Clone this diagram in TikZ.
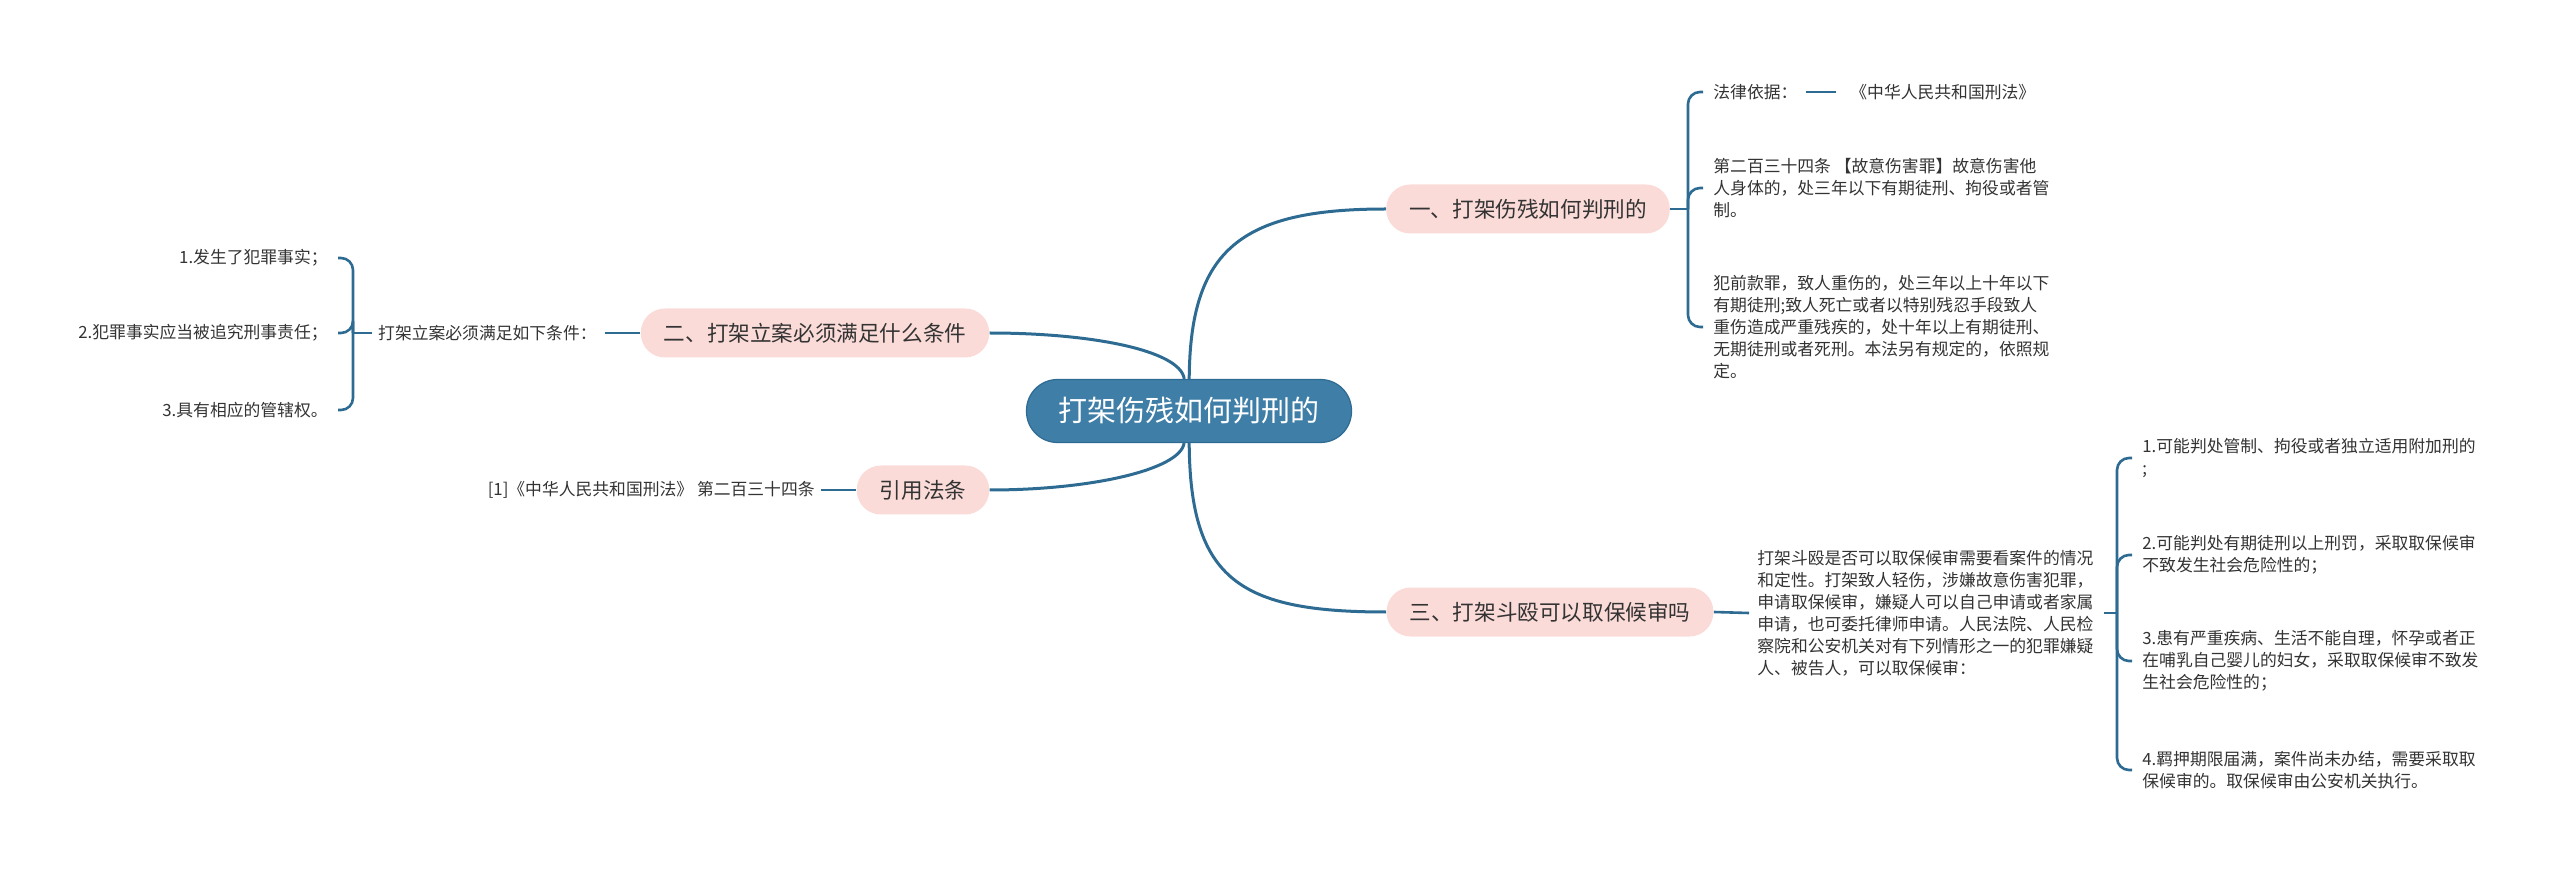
\documentclass[tikz,border=0pt]{standalone}
\usepackage{fontspec}
\setmainfont{Noto Sans CJK SC}
\usetikzlibrary{backgrounds}
\definecolor{linkblue}{HTML}{2E6B92}
\definecolor{rootblue}{HTML}{3F7EA7}
\definecolor{topicpink}{HTML}{FADBD8}
\definecolor{inktext}{HTML}{333333}
\begin{document}
\begin{tikzpicture}[x=0.5pt, y=-0.5pt,
  root/.style={fill=rootblue, draw=linkblue, line width=0.6pt, rounded corners=15.5pt,
    minimum height=31.5pt, inner xsep=16pt, text=white, font=\fontsize{14.5}{17}\selectfont},
  topic/.style={fill=topicpink, rounded corners=12pt, minimum height=24.5pt, inner xsep=11.5pt,
    text=inktext, font=\fontsize{10.8}{13}\selectfont},
  leaf/.style={inner sep=0pt, align=left, text=inktext, font=\fontsize{8.4}{11}\selectfont},
  link/.style={draw=linkblue, line width=1.5pt},
  twig/.style={draw=linkblue, line width=1.3pt, rounded corners=6pt}]
  \useasboundingbox (0,0) rectangle (2560,871);
  % centre and main topics
  \node[root] (c) at (1189,411) {打架伤残如何判刑的};
  \node[topic] (b1) at (1528,209) {一、打架伤残如何判刑的};
  \node[topic] (b2) at (815,333) {二、打架立案必须满足什么条件};
  \node[topic] (b4) at (923,490) {引用法条};
  \node[topic] (b3) at (1550,612) {三、打架斗殴可以取保候审吗};
  % topic one
  \node[leaf, anchor=west] (l1a) at (1713,92) {法律依据：};
  \node[leaf, anchor=west] (l1d) at (1850,92) {《中华人民共和国刑法》};
  \node[leaf, anchor=west] (l1b) at (1713,188) {第二百三十四条 【故意伤害罪】故意伤害他\\人身体的，处三年以下有期徒刑、拘役或者管\\制。};
  \node[leaf, anchor=west] (l1c) at (1713,327) {犯前款罪，致人重伤的，处三年以上十年以下\\有期徒刑;致人死亡或者以特别残忍手段致人\\重伤造成严重残疾的，处十年以上有期徒刑、\\无期徒刑或者死刑。本法另有规定的，依照规\\定。};
  % topic two
  \node[leaf, anchor=east] (l2) at (597,333) {打架立案必须满足如下条件：};
  \node[leaf, anchor=east] (k1) at (328,258) {1.发生了犯罪事实；};
  \node[leaf, anchor=east] (k2) at (328,333) {2.犯罪事实应当被追究刑事责任；};
  \node[leaf, anchor=east] (k3) at (328,410) {3.具有相应的管辖权。};
  % quoted law
  \node[leaf, anchor=east] (l4) at (815,490) {[1]《中华人民共和国刑法》 第二百三十四条};
  % topic three
  \node[leaf, anchor=west] (l3) at (1757,613) {打架斗殴是否可以取保候审需要看案件的情况\\和定性。打架致人轻伤，涉嫌故意伤害犯罪，\\申请取保候审，嫌疑人可以自己申请或者家属\\申请，也可委托律师申请。人民法院、人民检\\察院和公安机关对有下列情形之一的犯罪嫌疑\\人、被告人，可以取保候审：};
  \node[leaf, anchor=west] (m1) at (2142,458) {1.可能判处管制、拘役或者独立适用附加刑的\\;};
  \node[leaf, anchor=west] (m2) at (2142,555) {2.可能判处有期徒刑以上刑罚，采取取保候审\\不致发生社会危险性的；};
  \node[leaf, anchor=west] (m3) at (2142,661) {3.患有严重疾病、生活不能自理，怀孕或者正\\在哺乳自己婴儿的妇女，采取取保候审不致发\\生社会危险性的；};
  \node[leaf, anchor=west] (m4) at (2142,770) {4.羁押期限届满，案件尚未办结，需要采取取\\保候审的。取保候审由公安机关执行。};
  \coordinate (s1) at (1688,209);
  \coordinate (s2) at (353,333);
  \coordinate (s3) at (2117,613);
  \begin{scope}[on background layer]
    \draw[link] (c) .. controls (1190,250) and (1240,209) .. (b1.west);
    \draw[link] (b2.east) .. controls (1090,333) and (1180,350) .. (c);
    \draw[link] (b4.east) .. controls (1090,490) and (1180,470) .. (c);
    \draw[link] (c) .. controls (1190,580) and (1240,612) .. (b3.west);
  \end{scope}
  % brackets
  \draw[twig] (b1.east) -- (s1);
  \foreach \n in {l1a,l1b,l1c}
    \draw[twig] (s1) |- ([xshift=-5pt]\n.west);
  \draw[twig] ([xshift=4pt]l1a.east) -- ([xshift=-7pt]l1d.west);
  \draw[twig] (b2.west) -- ([xshift=4pt]l2.east);
  \draw[twig] ([xshift=-3pt]l2.west) -- (s2);
  \foreach \n in {k1,k2,k3}
    \draw[twig] (s2) |- ([xshift=5pt]\n.east);
  \draw[twig] (b4.west) -- ([xshift=3pt]l4.east);
  \draw[twig] (b3.east) -- ([xshift=-4pt]l3.west);
  \draw[twig] ([xshift=5pt]l3.east) -- (s3);
  \foreach \n in {m1,m2,m3,m4}
    \draw[twig] (s3) |- ([xshift=-5pt]\n.west);
\end{tikzpicture}
\end{document}
